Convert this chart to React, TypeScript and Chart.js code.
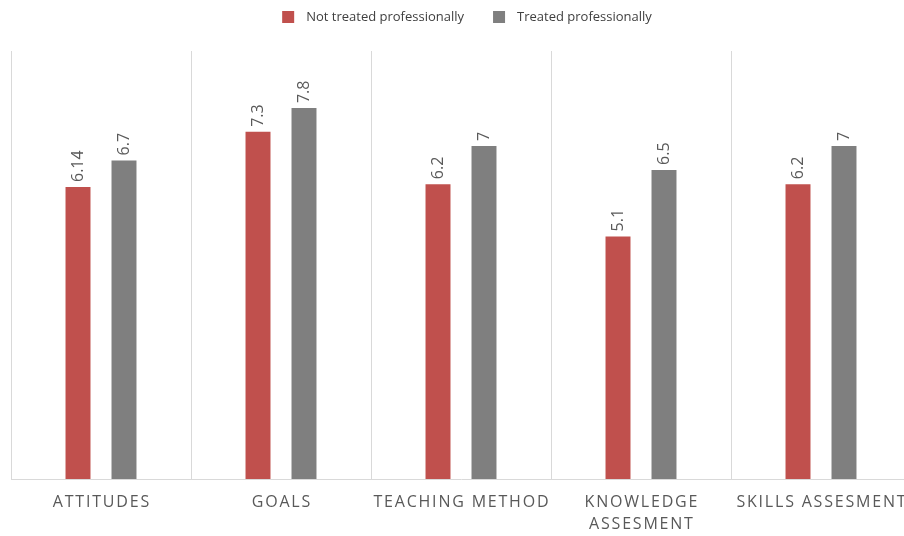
import React, { useEffect, useRef } from "react";
import { Chart, registerables } from "chart.js";

Chart.register(...registerables);

const categories: (string | string[])[] = [
  "ATTITUDES",
  "GOALS",
  "TEACHING METHOD",
  ["KNOWLEDGE", "ASSESMENT"],
  "SKILLS ASSESMENT",
];
const notTreated = [6.14, 7.3, 6.2, 5.1, 6.2];
const treated = [6.7, 7.8, 7, 6.5, 7];
const seriesNames = ["Not treated professionally", "Treated professionally"];
const seriesColors = ["#c0504d", "#7f7f7f"];

const FONT = '"Open Sans", "Noto Sans", sans-serif';

const customDraw = {
  id: "customDraw",
  afterDatasetsDraw(chart: any) {
    const ctx = chart.ctx;
    ctx.save();
    ctx.fillStyle = "#595959";
    ctx.font = `16px ${FONT}`;
    chart.data.datasets.forEach((ds: any, di: number) => {
      const meta = chart.getDatasetMeta(di);
      meta.data.forEach((bar: any, i: number) => {
        ctx.save();
        ctx.translate(bar.x, bar.y - 5);
        ctx.rotate(-Math.PI / 2);
        ctx.textAlign = "left";
        ctx.textBaseline = "middle";
        ctx.fillText(String(ds.data[i]), 0, 0);
        ctx.restore();
      });
    });
    ctx.restore();
  },
  afterDraw(chart: any) {
    const ctx = chart.ctx;
    const xs = chart.scales.x;
    ctx.save();
    // category labels
    ctx.fillStyle = "#595959";
    ctx.font = `16px ${FONT}`;
    (ctx as any).letterSpacing = "1.8px";
    ctx.textAlign = "center";
    ctx.textBaseline = "middle";
    categories.forEach((c, i) => {
      const x = xs.getPixelForValue(i) + 0.9;
      const lines = Array.isArray(c) ? c : [c];
      lines.forEach((ln, li) => {
        ctx.fillText(ln, x, 502 + li * 22);
      });
    });
    (ctx as any).letterSpacing = "0px";
    // legend
    ctx.font = `13px ${FONT}`;
    ctx.textAlign = "left";
    const w0 = ctx.measureText(seriesNames[0]).width;
    const w1 = ctx.measureText(seriesNames[1]).width;
    const box = 12;
    const gap = 12;
    const itemGap = 29;
    const total = box + gap + w0 + itemGap + box + gap + w1;
    let x = 467 - total / 2;
    const cy = 17;
    [w0, w1].forEach((w, k) => {
      ctx.fillStyle = seriesColors[k];
      ctx.fillRect(x, cy - box / 2, box, box);
      x += box + gap;
      ctx.fillStyle = "#404040";
      ctx.fillText(seriesNames[k], x, cy);
      x += w + itemGap;
    });
    ctx.restore();
  },
};

export default function App() {
  const ref = useRef<HTMLCanvasElement>(null);
  useEffect(() => {
    document.body.style.margin = "0";
    const chart = new Chart(ref.current!, {
      type: "bar",
      data: {
        labels: categories.map((c) => (Array.isArray(c) ? c.join(" ") : c)),
        datasets: [
          {
            label: seriesNames[0],
            data: notTreated,
            backgroundColor: seriesColors[0],
            categoryPercentage: 0.511,
            barPercentage: 0.543,
          },
          {
            label: seriesNames[1],
            data: treated,
            backgroundColor: seriesColors[1],
            categoryPercentage: 0.511,
            barPercentage: 0.543,
          },
        ],
      },
      options: {
        responsive: false,
        animation: false,
        devicePixelRatio: 1,
        layout: { padding: { left: 11, right: 0, top: 51, bottom: 57 } },
        plugins: {
          legend: { display: false },
          tooltip: { enabled: false },
        },
        scales: {
          x: {
            offset: true,
            grid: {
              display: true,
              offset: true,
              color: "#d9d9d9",
              lineWidth: 1,
              drawTicks: false,
            },
            border: { display: true, color: "#d9d9d9", width: 1 },
            ticks: { display: false },
          },
          y: {
            display: false,
            min: 0,
            max: 9,
          },
        },
      },
      plugins: [customDraw],
    });
    return () => chart.destroy();
  }, []);
  return (
    <div
      style={{
        position: "fixed",
        left: 0,
        top: 0,
        width: 904,
        height: 536,
        overflow: "hidden",
        background: "#fff",
      }}
    >
      <canvas ref={ref} width={911} height={536} style={{ display: "block" }} />
    </div>
  );
}
